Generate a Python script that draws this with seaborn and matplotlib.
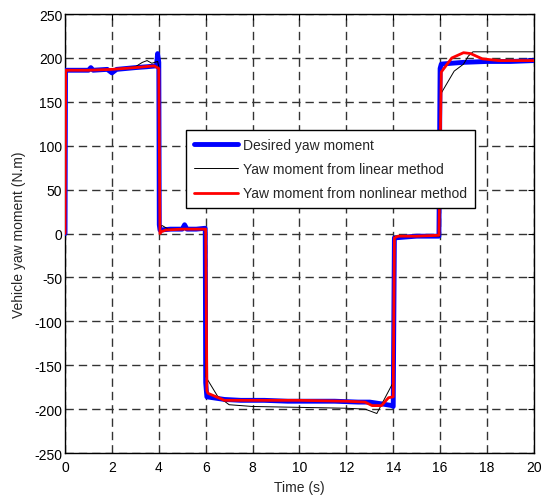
import matplotlib
matplotlib.use("Agg")
import matplotlib.pyplot as plt
import seaborn as sns
import pandas as pd

# Desired yaw moment (reference signal)
t_desired = [0, 0.02, 0.5, 1.0, 1.1, 1.2, 1.8, 2.0, 2.2, 2.6, 3.0, 3.5, 3.9, 3.95, 4.0,
             4.02, 4.05, 4.5, 5.0, 5.1, 5.2, 5.6, 5.98, 6.0, 6.05, 6.3, 6.8, 7.5, 8.5,
             9.5, 10.5, 11.5, 12.5, 13.0, 13.5, 13.95, 14.0, 14.05, 14.5, 15.0, 15.5,
             15.95, 16.0, 16.05, 16.5, 17.0, 18.0, 19.0, 20.0]
m_desired = [0, 186, 186, 186, 189, 186, 187, 183, 187, 188, 189, 190, 191, 205, 195,
             10, 4, 5, 5, 10, 5, 5, 6, -170, -186, -187, -189, -190, -190,
             -191, -191, -191, -192, -192, -194, -196, -197, -5, -4, -3, -3,
             -3, 188, 193, 194, 195, 196, 196, 197]

# Yaw moment from linear method
t_linear = [0, 0.03, 1.0, 2.0, 3.0, 3.3, 3.5, 3.7, 3.95, 4.0, 4.05, 4.15, 4.4, 5.0,
            5.98, 6.0, 6.5, 7.0, 8.0, 10.0, 12.0, 12.8, 13.3, 13.93, 14.0, 14.05,
            15.0, 15.98, 16.0, 16.05, 16.6, 17.0, 17.2, 17.4, 19.3, 20.0]
m_linear = [0, 186, 186, 187, 190, 195, 197, 194, 196, 190, 8, 9, 5, 5,
            5, -163, -185, -195, -197, -198, -199, -200, -205, -173, -170, -3,
            -3, -3, 60, 160, 185, 193, 202, 207, 207, 207]

# Yaw moment from nonlinear method
t_nonlinear = [0, 0.03, 1.0, 2.0, 3.0, 3.8, 4.0, 4.05, 4.1, 4.3, 5.0, 6.0, 6.05,
               6.1, 6.8, 8.0, 10.0, 12.0, 12.8, 13.1, 13.5, 13.8, 14.0, 14.05, 14.2,
               15.0, 15.95, 16.05, 16.5, 17.0, 17.3, 17.8, 18.5, 19.5, 20.0]
m_nonlinear = [0, 186, 186, 187, 189, 191, 188, 0, 2, 4, 5, 5, -179,
               -182, -190, -190, -190, -191, -192, -196, -196, -187, -186, -5, -3,
               -3, -2, 184, 200, 206, 205, 199, 197, 197, 197]

x_ticks = [0, 2, 4, 6, 8, 10, 12, 14, 16, 18, 20]
y_ticks = [-250, -200, -150, -100, -50, 0, 50, 100, 150, 200, 250]

sns.set_style("white")
plt.rcParams["font.family"] = ["Liberation Sans", "DejaVu Sans"]
plt.rcParams["font.size"] = 10

fig = plt.figure(figsize=(5.42, 5.02), dpi=100)
ax = fig.add_axes([0.120, 0.0956, 0.865, 0.8744])

df_d = pd.DataFrame({"t": t_desired, "m": m_desired})
df_l = pd.DataFrame({"t": t_linear, "m": m_linear})
df_n = pd.DataFrame({"t": t_nonlinear, "m": m_nonlinear})

sns.lineplot(data=df_d, x="t", y="m", ax=ax, color="#0000ff", lw=3.5,
             estimator=None, sort=False, label="Desired yaw moment", zorder=3)
sns.lineplot(data=df_l, x="t", y="m", ax=ax, color="black", lw=0.7,
             estimator=None, sort=False, label="Yaw moment from linear method", zorder=4)
sns.lineplot(data=df_n, x="t", y="m", ax=ax, color="#ff0000", lw=2.0,
             estimator=None, sort=False, label="Yaw moment from nonlinear method", zorder=5)

ax.set_xlim(0, 20)
ax.set_ylim(-250, 250)
ax.set_xticks(x_ticks)
ax.set_yticks(y_ticks)
ax.set_xticklabels([str(v) for v in x_ticks])
ax.set_yticklabels([str(v) for v in y_ticks])
ax.grid(True, color="#333333", linestyle=(0, (6, 3.6)), linewidth=1.0)
ax.tick_params(direction="in", top=True, right=True, length=4, width=0.8,
               labelsize=10, colors="black")
ax.tick_params(axis="x", pad=5)
ax.tick_params(axis="y", pad=2)
for s in ax.spines.values():
    s.set_color("black")
    s.set_linewidth(1.0)

ax.set_xlabel("Time (s)", fontsize=10, labelpad=4)
ax.set_ylabel("Vehicle yaw moment (N.m)", fontsize=10, labelpad=6)

leg = ax.legend(loc="upper left", bbox_to_anchor=(0.258, 0.560, 0.616, 0.176),
                mode="expand", fontsize=10, frameon=True, fancybox=False,
                borderaxespad=0, handlelength=3.2, handletextpad=0.35,
                labelspacing=0.75, borderpad=0.55)
leg.get_frame().set_edgecolor("black")
leg.get_frame().set_linewidth(1.0)
leg.get_frame().set_alpha(1)

fig.savefig("out.png", dpi=100)
